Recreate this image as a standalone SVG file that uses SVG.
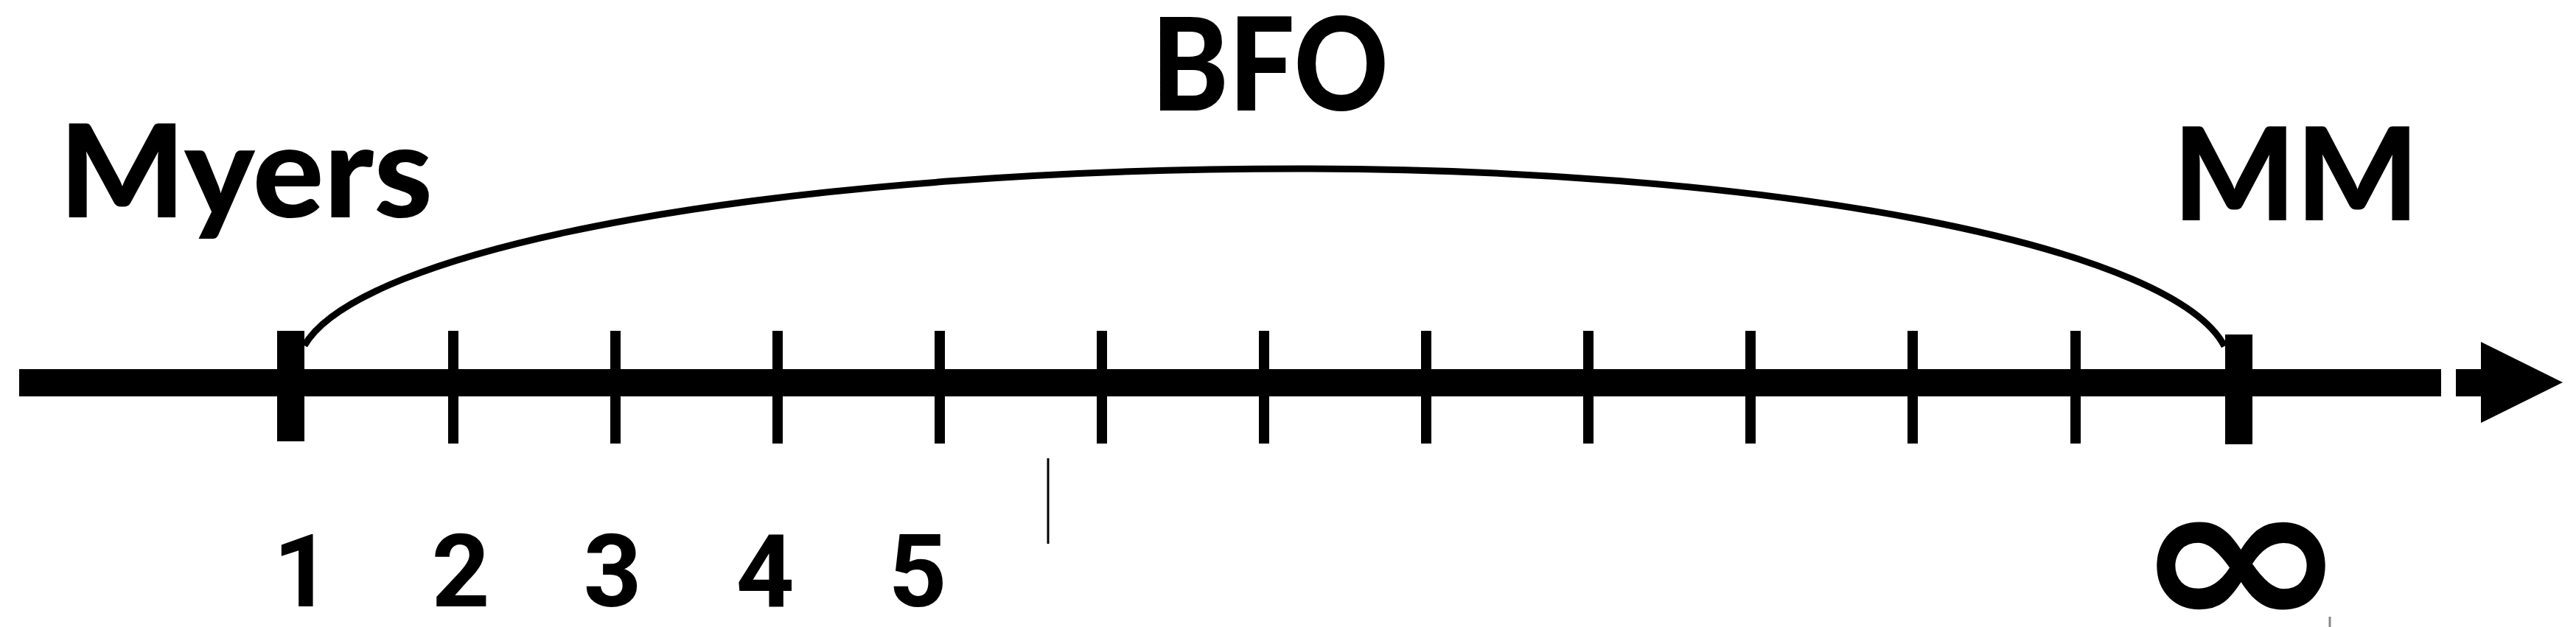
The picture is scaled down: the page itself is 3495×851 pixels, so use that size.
<svg xmlns="http://www.w3.org/2000/svg" width="3495" height="851" viewBox="0 0 3495 851">
<defs>
<style>
.lbl{font-family:"Lato","Open Sans","Liberation Sans",sans-serif;font-weight:900;fill:#000;}
.num{font-family:"Roboto","Liberation Sans",sans-serif;font-weight:bold;font-size:138px;text-anchor:middle;fill:#000;}
.tk{fill:#000;}
</style>
</defs>
<rect width="3495" height="851" fill="#fff"/>
<g id="axis">
<rect x="26" y="501" width="3286" height="37" fill="#000"/>
<rect x="3332" y="501" width="40" height="37" fill="#000"/>
<polygon points="3366,464 3477,519 3366,574" fill="#000"/>
</g>
<g id="ticks">
<rect class="tk" x="376" y="449" width="37" height="150"/>
<rect class="tk" x="608" y="449" width="14" height="153"/>
<rect class="tk" x="828" y="449" width="14" height="153"/>
<rect class="tk" x="1048" y="449" width="14" height="153"/>
<rect class="tk" x="1268" y="449" width="14" height="153"/>
<rect class="tk" x="1488" y="449" width="14" height="153"/>
<rect class="tk" x="1708" y="449" width="14" height="153"/>
<rect class="tk" x="1928" y="449" width="14" height="153"/>
<rect class="tk" x="2148" y="449" width="14" height="153"/>
<rect class="tk" x="2368" y="449" width="14" height="153"/>
<rect class="tk" x="2588" y="449" width="14" height="153"/>
<rect class="tk" x="2809" y="449" width="14" height="153"/>
<rect class="tk" x="3019" y="454" width="37" height="149"/>
</g>
<g id="connectors">
<path d="M 413 469 A 1356 271 0 0 1 1760 229 A 1262 271 0 0 1 3018 470" fill="none" stroke="#000" stroke-width="9"/>
</g>
<g id="node-myers"><text class="lbl" x="80" y="295" font-size="176" textLength="507" lengthAdjust="spacingAndGlyphs">Myers</text></g>
<g id="node-bfo"><text class="lbl" x="1562" y="150" font-size="176" textLength="322" lengthAdjust="spacingAndGlyphs">BFO</text></g>
<g id="node-mm"><text class="lbl" x="2948" y="299" font-size="176" textLength="334" lengthAdjust="spacingAndGlyphs">MM</text></g>
<g id="numbers">
<text class="num" x="410" y="823">1</text>
<text class="num" x="625" y="823">2</text>
<text class="num" x="831" y="823">3</text>
<text class="num" x="1038" y="823">4</text>
<text class="num" x="1245" y="823">5</text>
</g>
<g id="infinity">
<text x="2894" y="853" font-family="'DejaVu Sans', sans-serif" font-weight="bold" font-size="286" textLength="293" lengthAdjust="spacingAndGlyphs" fill="#000">∞</text>
</g>
<g id="marks">
<line x1="1422" y1="622" x2="1422" y2="738" stroke="#000" stroke-width="3"/>
<line x1="3161" y1="837" x2="3161" y2="851" stroke="#888" stroke-width="3"/>
</g>
</svg>
